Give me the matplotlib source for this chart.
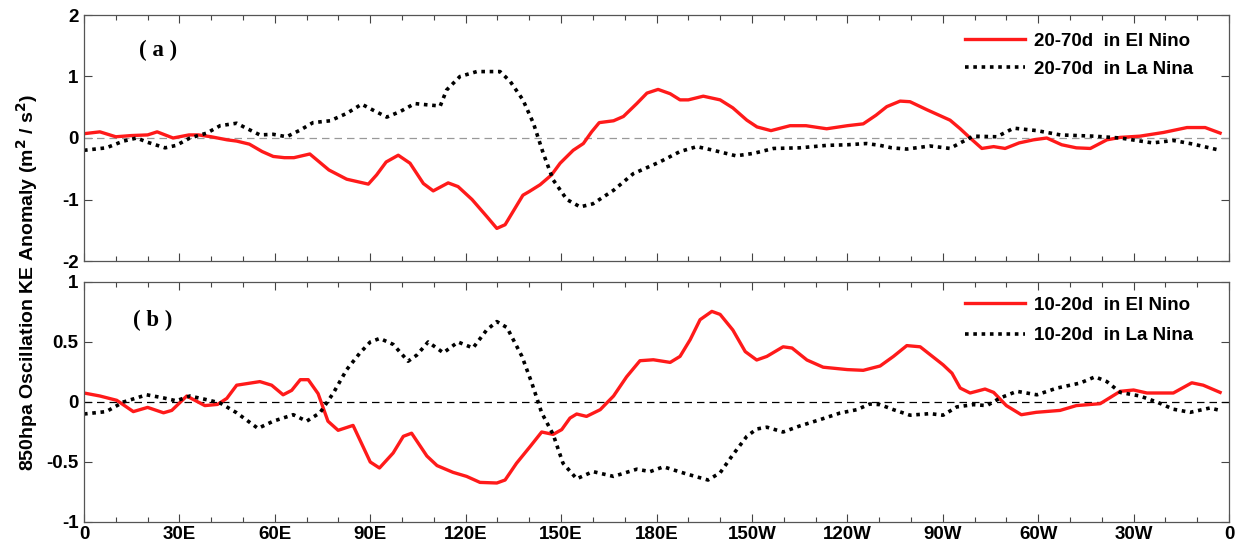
import matplotlib
matplotlib.use("Agg")
import matplotlib.pyplot as plt
from matplotlib.ticker import MultipleLocator

# ---- data: panel (a) 20-70d ----
a_en_lon = [0, 5, 10, 15, 20, 23, 28, 33, 36, 40, 45, 48, 52, 56, 59.5, 63, 66, 71, 77, 82.6, 89.4, 92, 95, 98.8,
            102.5, 106.7, 109.8, 114.5, 117.6, 122, 126.7, 129.8, 132.4, 138, 140, 143.4, 147, 149.7, 153.8, 157,
            159.6, 162, 166.5, 169.6, 173.8, 177, 180.5, 184.3, 187.4, 190, 194.7, 200, 204, 208.4, 211.6, 216,
            222, 227, 233.5, 240, 245, 249, 252.4, 256.6, 259.7, 265, 272.3, 275.5, 278.6, 282.3, 286, 289.6, 294,
            298.5, 302.7, 307.4, 312, 316.4, 321.6, 325.8, 332, 339.4, 346.8, 352.5, 357.2]
a_en_val = [0.07, 0.1, 0.02, 0.04, 0.05, 0.1, 0.0, 0.05, 0.05, 0.02, -0.03, -0.05, -0.1, -0.22, -0.30, -0.32,
            -0.32, -0.26, -0.52, -0.67, -0.75, -0.6, -0.39, -0.28, -0.41, -0.74, -0.86, -0.73, -0.79, -1.0, -1.28,
            -1.47, -1.41, -0.93, -0.87, -0.76, -0.60, -0.41, -0.2, -0.09, 0.10, 0.25, 0.28, 0.35, 0.56, 0.73, 0.79,
            0.72, 0.62, 0.62, 0.68, 0.62, 0.49, 0.29, 0.18, 0.12, 0.2, 0.2, 0.15, 0.2, 0.23, 0.37, 0.51, 0.60, 0.59,
            0.46, 0.29, 0.15, 0.0, -0.17, -0.14, -0.17, -0.08, -0.03, 0.0, -0.11, -0.16, -0.17, -0.03, 0.01, 0.03,
            0.09, 0.17, 0.17, 0.08]

a_ln_lon = [0, 7, 12.4, 16.6, 20, 25.5, 29, 33.3, 38.6, 42.8, 48, 51, 55.3, 59.5, 63.7, 68, 72, 77.4, 82.6, 87.3,
            91, 95.2, 99.4, 104, 107.8, 112, 114, 118.2, 123.5, 130.8, 134, 138, 141.3, 144.4, 147.5, 151.8, 156,
            160, 166.5, 172.7, 181, 187.4, 192.7, 197.9, 205, 210.5, 216.8, 225, 233.5, 240, 246, 250.3, 254,
            258.7, 266, 272.3, 275.5, 279.6, 287, 292.3, 299.6, 307, 317.4, 325.8, 336, 342.5, 348.8, 357.2]
a_ln_val = [-0.2, -0.16, -0.05, 0.0, -0.07, -0.16, -0.12, 0.0, 0.08, 0.2, 0.24, 0.16, 0.05, 0.06, 0.02, 0.13,
            0.25, 0.28, 0.4, 0.55, 0.45, 0.34, 0.43, 0.56, 0.54, 0.52, 0.78, 1.0, 1.08, 1.08, 0.92, 0.62, 0.24,
            -0.25, -0.68, -1.0, -1.12, -1.07, -0.85, -0.58, -0.39, -0.22, -0.14, -0.2, -0.29, -0.25, -0.17, -0.16,
            -0.12, -0.11, -0.09, -0.12, -0.16, -0.18, -0.13, -0.17, -0.08, 0.03, 0.02, 0.16, 0.12, 0.05, 0.03,
            0.0, -0.08, -0.04, -0.1, -0.2]

# ---- data: panel (b) 10-20d ----
b_en_lon = [0, 5, 10.3, 15.5, 20, 25, 27.6, 32.3, 38, 42, 44.9, 48, 55.3, 59, 62.6, 65.3, 68, 70.5, 73.6, 76.7,
            79.9, 84.6, 90, 92.9, 97.2, 100.4, 103, 107.8, 111, 116, 120.3, 124.5, 129.8, 132.4, 136, 140.3,
            143.9, 147.5, 150.2, 152.8, 154.9, 158, 162.3, 166.5, 170.6, 174.8, 179, 184.3, 187.4, 190.6, 193.7,
            197.4, 200, 204, 207.9, 211.5, 214.7, 219.8, 222.6, 227.3, 232.4, 240, 245, 250.3, 254.5, 258.7,
            262.9, 270.1, 272.9, 275.5, 278.6, 283.3, 286, 290, 294.7, 299.4, 306.9, 312, 319.5, 325.8, 330,
            334.2, 342.5, 348.3, 351.9, 357.2]
b_en_val = [0.075, 0.05, 0.014, -0.08, -0.045, -0.09, -0.07, 0.05, -0.03, -0.02, 0.03, 0.14, 0.17, 0.14, 0.06,
            0.097, 0.186, 0.186, 0.07, -0.16, -0.236, -0.195, -0.5, -0.55, -0.425, -0.286, -0.26, -0.45, -0.53,
            -0.586, -0.62, -0.67, -0.675, -0.65, -0.51, -0.37, -0.25, -0.27, -0.23, -0.134, -0.1, -0.12, -0.064,
            0.05, 0.21, 0.344, 0.352, 0.33, 0.38, 0.52, 0.686, 0.755, 0.73, 0.6, 0.42, 0.35, 0.38, 0.46, 0.45,
            0.35, 0.29, 0.27, 0.264, 0.30, 0.38, 0.47, 0.46, 0.31, 0.24, 0.116, 0.075, 0.108, 0.08, -0.03, -0.106,
            -0.086, -0.07, -0.03, -0.014, 0.089, 0.1, 0.075, 0.075, 0.16, 0.14, 0.08]

b_ln_lon = [0, 7, 12.4, 19.7, 25, 29, 33.3, 38.6, 42.8, 48, 54.7, 59.5, 65.8, 70, 74.2, 78.4, 82.6, 86.8, 90, 93,
            97.2, 101.9, 104.6, 108.2, 113, 117.6, 122.3, 126.6, 129.8, 133, 137.7, 140.8, 143.9, 147.5, 150.6,
            154.9, 160, 166.5, 173.8, 178, 182.2, 189.5, 196.2, 200, 204, 208.4, 211.5, 214.7, 219.8, 225, 231.4,
            237.7, 243, 247, 250.3, 254.5, 259.7, 266, 270.1, 274.4, 279.6, 283.9, 288, 293.3, 299.6, 305.9,
            313.2, 317.9, 321.6, 325.8, 332, 337.3, 342.5, 347.8, 354, 357.2]
b_ln_val = [-0.1, -0.08, 0.0, 0.06, 0.034, 0.01, 0.05, 0.019, -0.008, -0.09, -0.22, -0.16, -0.106, -0.16, -0.09,
            0.075, 0.27, 0.41, 0.5, 0.53, 0.48, 0.34, 0.39, 0.50, 0.41, 0.50, 0.45, 0.6, 0.67, 0.62, 0.38, 0.158,
            -0.09, -0.27, -0.51, -0.64, -0.58, -0.62, -0.56, -0.58, -0.54, -0.6, -0.65, -0.59, -0.44, -0.286,
            -0.225, -0.21, -0.25, -0.2, -0.147, -0.092, -0.064, -0.017, -0.022, -0.064, -0.11, -0.097, -0.11,
            -0.041, -0.022, -0.03, 0.033, 0.089, 0.06, 0.116, 0.158, 0.21, 0.17, 0.08, 0.05, 0.0, -0.06, -0.086,
            -0.05, -0.07]

x_ticks = [0, 30, 60, 90, 120, 150, 180, 210, 240, 270, 300, 330, 360]
x_labels = ['0', '30E', '60E', '90E', '120E', '150E', '180E', '150W', '120W', '90W', '60W', '30W', '0']
a_yticks = [-2, -1, 0, 1, 2]
b_yticks = [-1, -0.5, 0, 0.5, 1]
b_ylabels = ['-1', '-0.5', '0', '0.5', '1']

plt.rcParams['font.family'] = ['Liberation Sans', 'DejaVu Sans']

fig = plt.figure(figsize=(12.41, 5.5), dpi=100)
ax1 = fig.add_axes([84 / 1241, 1 - 261 / 550, (1229 - 84) / 1241, (261 - 15) / 550])
ax2 = fig.add_axes([84 / 1241, 1 - 522 / 550, (1229 - 84) / 1241, (522 - 282) / 550])

red = '#ff1a1a'

def style(ax, yticks, ylabels, show_x):
    ax.set_xlim(0, 360)
    ax.set_xticks(x_ticks)
    ax.xaxis.set_minor_locator(MultipleLocator(10))
    if show_x:
        ax.set_xticklabels(x_labels, fontsize=13.5, fontweight='bold')
    else:
        ax.set_xticklabels([])
    ax.set_yticks(yticks)
    ax.set_yticklabels(ylabels, fontsize=13.5, fontweight='bold')
    ax.tick_params(which='both', direction='in', top=True, right=True, color='#444444')
    ax.tick_params(which='major', length=6, width=0.8, pad=4)
    ax.tick_params(which='minor', length=3.5, width=0.8)
    ax.tick_params(axis='x', pad=3)
    for s in ax.spines.values():
        s.set_color('#555555')
        s.set_linewidth(0.9)

leg_common = dict(loc='upper right', frameon=False, handlelength=3.2, handletextpad=0.45,
                  borderaxespad=0.0, prop={'weight': 'bold', 'size': 13.5})

# Panel a
ax1.axhline(0, color='#999999', linestyle=(0, (6, 4)), linewidth=0.9)
ax1.plot(a_en_lon, a_en_val, color=red, linewidth=2.4, label='20-70d  in El Nino')
ax1.plot(a_ln_lon, a_ln_val, color='black', linewidth=2.6, linestyle=(0, (1, 1.3)), label='20-70d  in La Nina')
ax1.set_ylim(-2, 2)
style(ax1, a_yticks, [str(v) for v in a_yticks], False)
ax1.text(17.3, 1.43, '( a )', fontsize=16.5, fontweight='bold', family='Liberation Serif', va='center')
ax1.legend(bbox_to_anchor=(0.975, 0.958), labelspacing=0.57, **leg_common)

# Panel b
ax2.axhline(0, color='black', linestyle=(0, (6, 4)), linewidth=0.9)
ax2.plot(b_en_lon, b_en_val, color=red, linewidth=2.4, label='10-20d  in El Nino')
ax2.plot(b_ln_lon, b_ln_val, color='black', linewidth=2.6, linestyle=(0, (1, 1.3)), label='10-20d  in La Nina')
ax2.set_ylim(-1, 1)
style(ax2, b_yticks, b_ylabels, True)
ax2.text(15.4, 0.68, '( b )', fontsize=16.5, fontweight='bold', family='Liberation Serif', va='center')
ax2.legend(bbox_to_anchor=(0.975, 0.97), labelspacing=0.7, **leg_common)

fig.text(27 / 1241, 1 - 283 / 550, '850hpa Oscillation KE Anomaly (m$^{\\mathbf{2}}$ / s$^{\\mathbf{2}}$)',
         rotation=90, ha='center', va='center', fontsize=14, fontweight='bold')

fig.savefig('out.png', dpi=100)
